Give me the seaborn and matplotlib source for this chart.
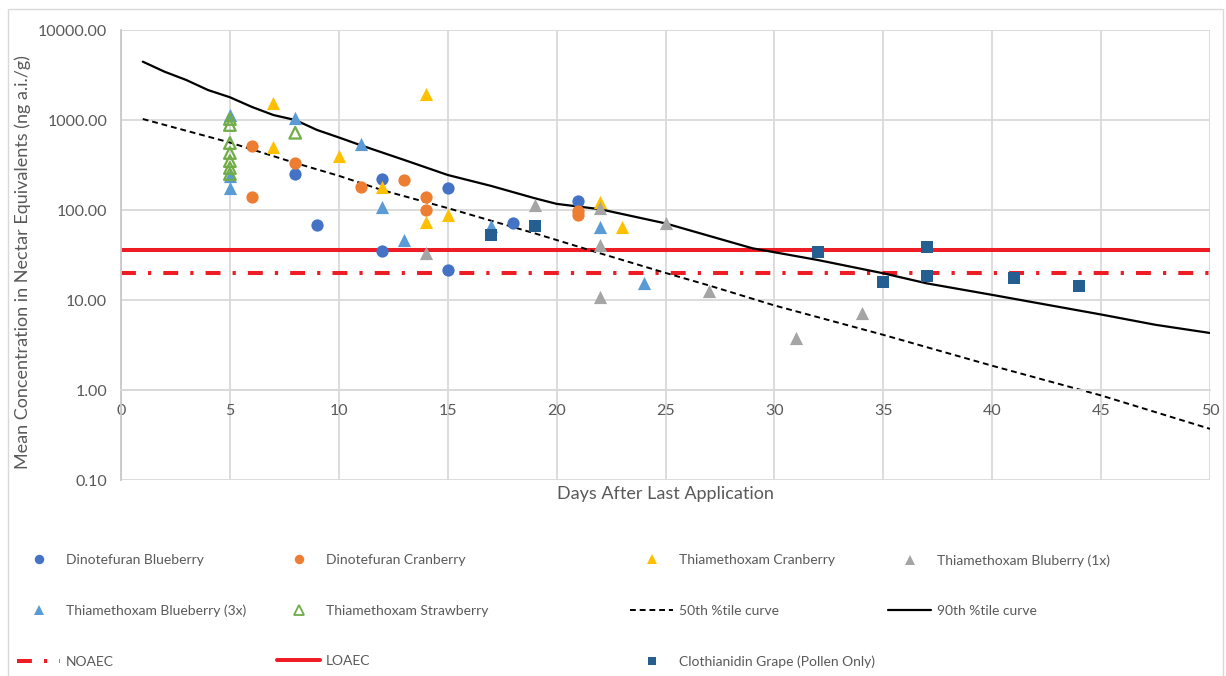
import matplotlib
matplotlib.use("Agg")
import matplotlib.pyplot as plt
import matplotlib.ticker as mticker
from matplotlib.lines import Line2D
from matplotlib.patches import Rectangle
import seaborn as sns

sns.set_style("white")
plt.rcParams['font.family'] = ['Lato', 'DejaVu Sans']

# Scatter series (days after last application, concentration ng a.i./g)
din_blue_days = [8, 9, 12, 12, 15, 15, 18, 21]
din_blue_conc = [249, 68, 220, 35, 174, 21.4, 71, 127]

din_cran_days = [6, 6, 8, 11, 13, 14, 14, 21, 21]
din_cran_conc = [514, 138, 336, 180, 215, 138, 100, 98, 88]

thx_cran_days = [7, 7, 10, 12, 14, 14, 15, 22, 23]
thx_cran_conc = [1556, 506, 398, 179, 1945, 73, 88, 124, 64]

thx_blu1_days = [14, 19, 22, 22, 22, 25, 27, 31, 34]
thx_blu1_conc = [33, 114, 104, 41, 10.7, 72, 12.6, 3.75, 7.1]

thx_blu3_days = [5, 5, 5, 8, 11, 12, 13, 17, 22, 24]
thx_blu3_conc = [1137, 239, 174, 1045, 541, 109, 46, 67, 65, 15.6]

thx_straw_days = [5, 5, 5, 5, 5, 5, 5, 8]
thx_straw_conc = [1026, 880, 555, 430, 350, 293, 251, 722]

cloth_days = [17, 19, 32, 35, 37, 37, 41, 44]
cloth_conc = [53, 67, 34.4, 16, 38.5, 18.5, 17.7, 14.3]

# Percentile curves
p50_days = [1, 5, 8, 10, 12, 15, 19, 22, 25, 27, 30, 35, 40, 45, 50]
p50_conc = [1026, 562, 333, 240, 166, 105, 55, 33, 20, 14.5, 8.7, 4.1, 1.86, 0.87, 0.37]

p90_days = [1, 2, 3, 4, 5, 6, 7, 8, 9, 10, 11, 13, 15, 17, 19, 20, 22, 25, 29, 32, 35, 37, 40, 45, 47.5, 50]
p90_conc = [4450, 3440, 2780, 2150, 1790, 1400, 1135, 1000, 775, 640, 525, 360, 245, 185, 135, 117, 102,
            71, 37.5, 27.8, 19.8, 15.3, 11.4, 6.9, 5.3, 4.3]

NOAEC = 19.8
LOAEC = 35.9

C_DB = "#4472C4"
C_DC = "#ED7D31"
C_TC = "#FFC000"
C_T1 = "#A5A5A5"
C_T3 = "#5B9BD5"
C_TS = "#70AD47"
C_CG = "#255E91"
C_RED = "#EE1C25"
GREY_TXT = "#595959"

fig = plt.figure(figsize=(12.26, 6.76), dpi=100)
ax = fig.add_axes([121 / 1226, 1 - 480 / 676, 1089 / 1226, 450 / 676])

# reference lines and curves
ax.axhline(LOAEC, color=C_RED, lw=2.9, zorder=2)
noaec_line = ax.axhline(NOAEC, color=C_RED, lw=2.9, zorder=2)
noaec_line.set_dashes([3.7, 3, 0.8, 3])

sns.lineplot(x=p50_days, y=p50_conc, ax=ax, color="black", linewidth=1.4,
             linestyle=(0, (3, 2)), zorder=2)
sns.lineplot(x=p90_days, y=p90_conc, ax=ax, color="black", linewidth=1.6, zorder=2)

# scatter series
sns.scatterplot(x=din_blue_days, y=din_blue_conc, ax=ax, color=C_DB, marker="o", s=78, linewidth=0, zorder=4)
sns.scatterplot(x=din_cran_days, y=din_cran_conc, ax=ax, color=C_DC, marker="o", s=78, linewidth=0, zorder=4)
sns.scatterplot(x=thx_cran_days, y=thx_cran_conc, ax=ax, color=C_TC, marker="^", s=90, linewidth=0, zorder=4)
sns.scatterplot(x=thx_blu1_days, y=thx_blu1_conc, ax=ax, color=C_T1, marker="^", s=90, linewidth=0, zorder=4)
sns.scatterplot(x=thx_blu3_days, y=thx_blu3_conc, ax=ax, color=C_T3, marker="^", s=90, linewidth=0, zorder=4)
sns.scatterplot(x=thx_straw_days, y=thx_straw_conc, ax=ax, color=C_TS, marker="^", s=70, zorder=4)
straw = ax.collections[-1]
straw.set_facecolor("none")
straw.set_edgecolor(C_TS)
straw.set_linewidth(1.6)
sns.scatterplot(x=cloth_days, y=cloth_conc, ax=ax, color=C_CG, marker="s", s=66, linewidth=0, zorder=4)

# axes
ax.set_yscale("log")
ax.set_ylim(0.1, 10000)
ax.set_xlim(0, 50)
ax.set_yticks([0.1, 1, 10, 100, 1000, 10000])
ax.yaxis.set_major_formatter(mticker.FuncFormatter(lambda v, p: f"{v:.2f}"))
ax.yaxis.set_minor_locator(mticker.NullLocator())
ax.set_xticks(range(0, 51, 5))
ax.grid(True, color="#D9D9D9", lw=1.3)
ax.set_axisbelow(True)

for side in ["top", "right"]:
    ax.spines[side].set_visible(False)
ax.spines["bottom"].set_position(("data", 1))
ax.spines["bottom"].set_color("#D9D9D9")
ax.spines["left"].set_color("#C8C8C8")
ax.spines["left"].set_linewidth(1.3)
ax.spines["bottom"].set_linewidth(1.3)

ax.tick_params(length=0, colors=GREY_TXT, labelsize=11.5, pad=10)

ax.set_xlabel("Days After Last Application", fontsize=13, color=GREY_TXT)
ax.xaxis.set_label_coords(0.4995, -0.013)
ax.set_ylabel("Mean Concentration in Nectar Equivalents (ng a.i./g)", fontsize=13, color=GREY_TXT)
ax.yaxis.set_label_coords(-0.083, 0.484)

# legend, four columns like the spreadsheet layout
def mk(marker, color, label, ms=6.8, fill=True):
    return Line2D([], [], ls="none", marker=marker, markersize=ms, color=color,
                  markerfacecolor=color if fill else "none", markeredgewidth=1.3 if not fill else 0,
                  label=label)

h_db = mk("o", C_DB, "Dinotefuran Blueberry")
h_dc = mk("o", C_DC, "Dinotefuran Cranberry")
h_tc = mk("^", C_TC, "Thiamethoxam Cranberry")
h_t1 = mk("^", C_T1, "Thiamethoxam Bluberry (1x)")
h_t3 = mk("^", C_T3, "Thiamethoxam Blueberry (3x)")
h_ts = mk("^", C_TS, "Thiamethoxam Strawberry", fill=False)
h_50 = Line2D([], [], color="black", lw=1.4, ls=(0, (3, 2)), label="50th %tile curve")
h_90 = Line2D([], [], color="black", lw=1.6, label="90th %tile curve")
h_no = Line2D([], [], color=C_RED, lw=2.9, label="NOAEC")
h_no.set_dashes([3.7, 3, 0.8, 3])
h_lo = Line2D([], [], color=C_RED, lw=2.9, label="LOAEC")
h_cg = mk("s", C_CG, "Clothianidin Grape (Pollen Only)", ms=6.3)

columns = [([h_db, h_t3, h_no], 17), ([h_dc, h_ts, h_lo], 277),
           ([h_tc, h_50, h_cg], 630), ([h_t1, h_90], 888)]
for handles, xpix in columns:
    fig.legend(handles=handles, loc="upper left", bbox_to_anchor=(xpix / 1226, 1 - 554 / 676),
               frameon=False, fontsize=10, handlelength=3.1, handletextpad=0.4,
               labelspacing=2.78, borderpad=0, borderaxespad=0, labelcolor=GREY_TXT)

fig.add_artist(Rectangle((8 / 1226, -0.01), 1215 / 1226, (676 - 9) / 676 + 0.01,
                         transform=fig.transFigure, fill=False, edgecolor="#D9D9D9", lw=1))

fig.savefig("out.png", dpi=100)
